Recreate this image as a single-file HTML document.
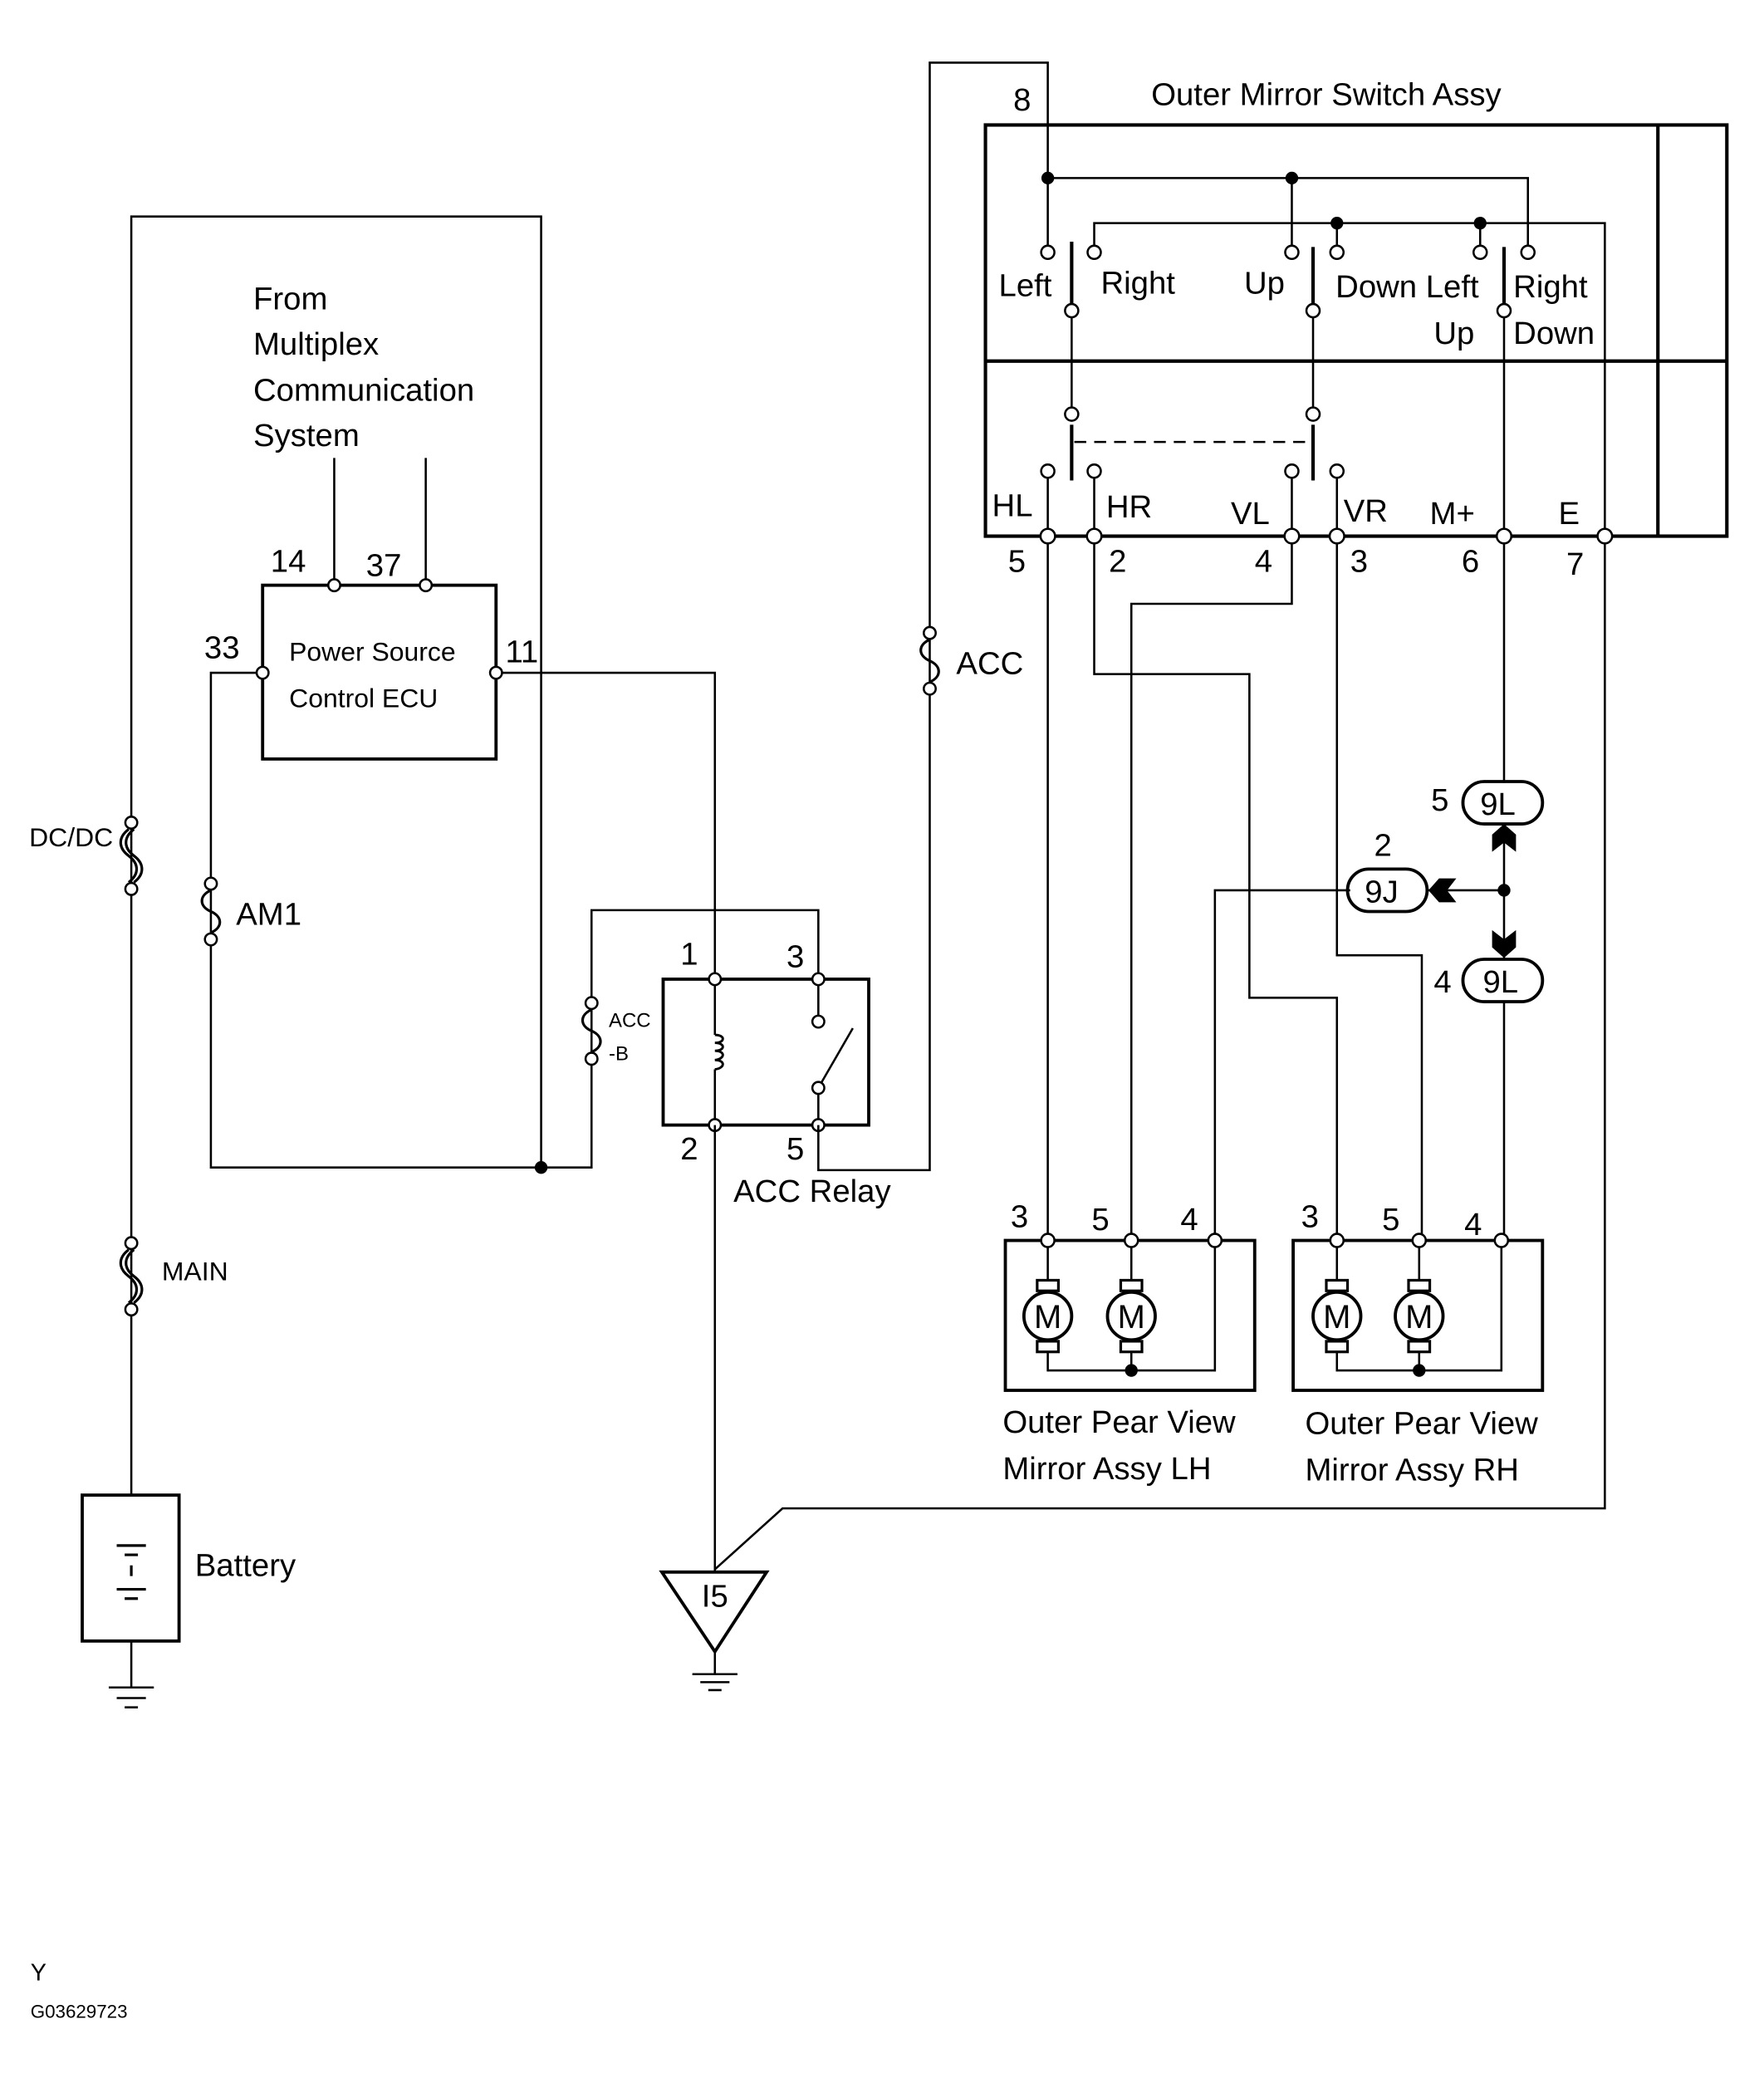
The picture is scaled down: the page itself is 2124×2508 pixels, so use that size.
<!DOCTYPE html>
<html><head><meta charset="utf-8"><style>html,body{margin:0;padding:0;background:#fff}svg{display:block}</style></head><body>
<svg width="2124" height="2508" viewBox="0 0 1330 1570" xmlns="http://www.w3.org/2000/svg" font-family="Liberation Sans, Arial, sans-serif" fill="none" stroke="#000" stroke-width="1.6">
<defs>
<g id="fz"><circle cx="0" cy="-21" r="4.5" fill="#fff"/><circle cx="0" cy="21" r="4.5" fill="#fff"/><path d="M0 -16 C-9 -12,-9 -4,0 0 C9 4,9 12,0 16" stroke-width="2"/></g>
<g id="fz2"><circle cx="0" cy="-25" r="4.5" fill="#fff"/><circle cx="0" cy="25" r="4.5" fill="#fff"/><path d="M-2 -20 C-10 -14,-10 -6,-2 0 C6 6,6 14,-2 20 M2 -20 C-6 -14,-6 -6,2 0 C10 6,10 14,2 20" stroke-width="2"/></g>
<g id="mot"><rect x="-8" y="-27" width="16" height="8" stroke-width="2"/><rect x="-8" y="19" width="16" height="8" stroke-width="2"/><circle r="18" stroke-width="2.4"/><text x="0" y="9" font-size="25" text-anchor="middle" fill="#000" stroke="none">M</text></g>
</defs>
<!-- left main wire -->
<polyline points="99,1127 99,163 408,163 408,880"/>
<use href="#fz2" x="99" y="645"/>
<use href="#fz2" x="99" y="962"/>
<rect x="62" y="1127" width="73" height="110" stroke-width="2.4"/>
<path d="M88 1165 H110 M94 1172 H104 M99 1180 V1188 M88 1198 H110 M94 1205 H104" stroke-width="2"/>
<path d="M99 1237 V1272 M82 1272 H116 M88 1280 H110 M94 1287 H104"/>
<!-- ECU -->
<rect x="198" y="441" width="176" height="131" stroke-width="2.4"/>
<path d="M252 441 V345 M321 441 V345"/>
<circle cx="252" cy="441" r="4.5" fill="#fff"/><circle cx="321" cy="441" r="4.5" fill="#fff"/>
<polyline points="198,507 159,507 159,880 446,880 446,686 617,686 617,738"/>
<circle cx="198" cy="507" r="4.5" fill="#fff"/>
<use href="#fz" x="159" y="687"/>
<use href="#fz" x="446" y="777"/>
<circle cx="408" cy="880" r="4" fill="#000"/>
<polyline points="374,507 539,507 539,738"/>
<circle cx="374" cy="507" r="4.5" fill="#fff"/>
<!-- relay -->
<rect x="500" y="738" width="155" height="110" stroke-width="2.4"/>
<path d="M539 738 V780 M539 806 V848"/>
<path d="M539 780 c8 0,8 6,0 6 c8 0,8 6,0 6 c8 0,8 6,0 7 c8 0,8 6,0 7" stroke-width="1.8"/>
<path d="M617 738 V765 M617 825 V848 M617 820 L643 775"/>
<circle cx="617" cy="770" r="4.5" fill="#fff"/><circle cx="617" cy="820" r="4.5" fill="#fff"/>
<circle cx="539" cy="738" r="4.5" fill="#fff"/><circle cx="617" cy="738" r="4.5" fill="#fff"/>
<circle cx="539" cy="848" r="4.5" fill="#fff"/><circle cx="617" cy="848" r="4.5" fill="#fff"/>
<polyline points="539,848 539,1185"/>
<polyline points="617,848 617,882 701,882 701,47 790,47 790,134"/>
<use href="#fz" x="701" y="498"/>
<!-- ground I5 -->
<polygon points="499,1185 578,1185 539,1245" stroke-width="2.4"/>
<path d="M539 1245 V1262 M522 1262 H556 M528 1268 H550 M534 1274 H544"/>
<polyline points="1210,404 1210,1137 590,1137 539,1183"/>
<!-- switch assy -->
<rect x="743" y="94" width="559" height="310" stroke-width="2.6"/>
<path d="M743 272 H1302 M1250 94 V404" stroke-width="2.6"/>
<path d="M790 134 H1152 V186 M790 134 V186 M974 134 V186 M825 186 V168 H1210 V404 M1008 168 V186 M1116 168 V186"/>
<circle cx="790" cy="134" r="4" fill="#000"/><circle cx="974" cy="134" r="4" fill="#000"/>
<circle cx="1008" cy="168" r="4" fill="#000"/><circle cx="1116" cy="168" r="4" fill="#000"/>
<path d="M808 182 V229 M990 186 V229 M1134 186 V229 M808 320 V362 M990 320 V362" stroke-width="2.6"/>
<path d="M808 239 V307 M990 239 V307 M1134 239 V404 M790 360 V404 M825 360 V404 M974 360 V404 M1008 360 V404"/>
<path d="M810 333 H988" stroke-dasharray="9,6"/>
<g fill="#fff">
<circle cx="790" cy="190" r="5"/><circle cx="825" cy="190" r="5"/><circle cx="974" cy="190" r="5"/><circle cx="1008" cy="190" r="5"/><circle cx="1116" cy="190" r="5"/><circle cx="1152" cy="190" r="5"/>
<circle cx="808" cy="234" r="5"/><circle cx="990" cy="234" r="5"/><circle cx="1134" cy="234" r="5"/>
<circle cx="808" cy="312" r="5"/><circle cx="990" cy="312" r="5"/>
<circle cx="790" cy="355" r="5"/><circle cx="825" cy="355" r="5"/><circle cx="974" cy="355" r="5"/><circle cx="1008" cy="355" r="5"/>
</g>
<!-- wires below switch -->
<path d="M790 404 V935 M825 404 V508 H942 V752 H1008 V935 M974 404 V455 H853 V935 M1008 404 V720 H1072 V935 M1134 404 V590 M1134 622 V723 M1076 671 H1134 M1018 671 H916 V935 M1134 755 V935"/>
<g fill="#fff"><circle cx="790" cy="404" r="5.5"/><circle cx="825" cy="404" r="5.5"/><circle cx="974" cy="404" r="5.5"/><circle cx="1008" cy="404" r="5.5"/><circle cx="1134" cy="404" r="5.5"/><circle cx="1210" cy="404" r="5.5"/></g>
<rect x="1103" y="589" width="60" height="32" rx="16" stroke-width="2.4"/>
<rect x="1103" y="723" width="60" height="32" rx="16" stroke-width="2.4"/>
<rect x="1016" y="655" width="60" height="32" rx="16" stroke-width="2.4"/>
<circle cx="1134" cy="671" r="4" fill="#000"/>
<g fill="#000" stroke="none">
<polygon points="1134,621 1143,629 1143,642 1134,635 1125,642 1125,629"/>
<polygon points="1134,722 1143,714 1143,701 1134,708 1125,701 1125,714"/>
<polygon points="1077,671 1085,662 1098,662 1091,671 1098,680 1085,680"/>
</g>
<!-- mirrors -->
<rect x="758" y="935" width="188" height="113" stroke-width="2.4"/>
<rect x="975" y="935" width="188" height="113" stroke-width="2.4"/>
<path d="M790 1019 V1033 H916 V935 M853 1019 V1033 M1008 1019 V1033 H1132 V935 M1070 1019 V1033"/>
<path d="M790 935 V965 M853 935 V965 M1008 935 V965 M1070 935 V965"/>
<use href="#mot" x="790" y="992"/><use href="#mot" x="853" y="992"/>
<use href="#mot" x="1008" y="992"/><use href="#mot" x="1070" y="992"/>
<circle cx="853" cy="1033" r="4" fill="#000"/><circle cx="1070" cy="1033" r="4" fill="#000"/>
<g fill="#fff"><circle cx="790" cy="935" r="5"/><circle cx="853" cy="935" r="5"/><circle cx="916" cy="935" r="5"/><circle cx="1008" cy="935" r="5"/><circle cx="1070" cy="935" r="5"/><circle cx="1132" cy="935" r="5"/></g>
<!-- text -->
<g fill="#000" stroke="none" font-size="24">
<text x="191" y="233">From</text><text x="191" y="267">Multiplex</text><text x="191" y="302">Communication</text><text x="191" y="336">System</text>
<text x="204" y="431">14</text><text x="276" y="434">37</text>
<text x="154" y="496">33</text><text x="381" y="499">11</text>
<text x="218" y="498" font-size="20">Power Source</text><text x="218" y="533" font-size="20">Control ECU</text>
<text x="22" y="638" font-size="20">DC/DC</text>
<text x="178" y="697">AM1</text>
<text x="122" y="965" font-size="20">MAIN</text>
<text x="147" y="1188">Battery</text>
<text x="459" y="774" font-size="15">ACC</text><text x="459" y="799" font-size="15">-B</text>
<text x="513" y="727">1</text><text x="593" y="729">3</text><text x="513" y="874">2</text><text x="593" y="874">5</text>
<text x="553" y="906">ACC Relay</text>
<text x="721" y="508">ACC</text>
<text x="529" y="1211">I5</text>
<text x="764" y="83">8</text>
<text x="868" y="79">Outer Mirror Switch Assy</text>
<text x="753" y="223">Left</text><text x="830" y="221">Right</text><text x="938" y="221">Up</text>
<text x="1007" y="224">Down Left</text><text x="1141" y="224">Right</text>
<text x="1081" y="259">Up</text><text x="1141" y="259">Down</text>
<text x="748" y="389">HL</text><text x="834" y="390">HR</text><text x="928" y="395">VL</text><text x="1013" y="393">VR</text><text x="1078" y="395">M+</text><text x="1175" y="395">E</text>
<text x="760" y="431">5</text><text x="836" y="431">2</text><text x="946" y="431">4</text><text x="1018" y="431">3</text><text x="1102" y="431">6</text><text x="1181" y="433">7</text>
<text x="1079" y="611">5</text><text x="1116" y="614">9L</text>
<text x="1036" y="645">2</text><text x="1029" y="680">9J</text>
<text x="1081" y="748">4</text><text x="1118" y="748">9L</text>
<text x="762" y="925">3</text><text x="823" y="927">5</text><text x="890" y="927">4</text>
<text x="981" y="925">3</text><text x="1042" y="927">5</text><text x="1104" y="931">4</text>
<text x="756" y="1080">Outer Pear View</text><text x="756" y="1115">Mirror Assy LH</text>
<text x="984" y="1081">Outer Pear View</text><text x="984" y="1116">Mirror Assy RH</text>
<text x="23" y="1493" font-size="18">Y</text>
<text x="23" y="1521" font-size="14">G03629723</text>
</g>
</svg>
</body></html>
